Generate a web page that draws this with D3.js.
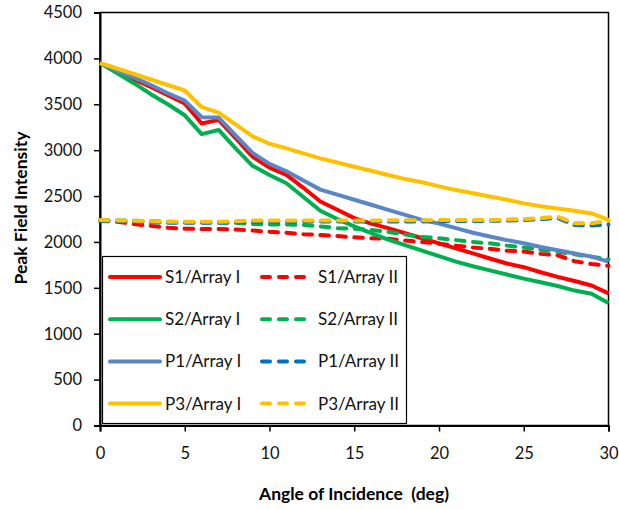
<!DOCTYPE html>
<html>
<head>
<meta charset="utf-8">
<script src="https://cdn.jsdelivr.net/npm/d3@7"></script>
<style>
  html, body { margin: 0; padding: 0; background: #fff; }
  svg { display: block; font-family: Lato, "Open Sans", sans-serif; }
</style>
</head>
<body>
<svg id="chart" width="619" height="510"></svg>
<script>
// Angle of incidence (deg)
const angles = d3.range(0, 31);

// Peak field intensity per configuration
const s1ArrayI  = [3950,3860,3770,3690,3600,3510,3290,3330,3130,2930,2810,2730,2590,2440,2350,2260,2200,2150,2095,2040,1985,1930,1875,1820,1765,1725,1670,1620,1575,1525,1440];
const s1ArrayII = [2235,2220,2195,2175,2155,2145,2140,2140,2135,2125,2110,2100,2085,2075,2065,2050,2040,2035,2015,2000,1980,1960,1940,1925,1905,1895,1870,1855,1790,1760,1740];
const s2ArrayI  = [3950,3840,3730,3610,3500,3380,3175,3220,3020,2830,2730,2640,2490,2340,2250,2170,2095,2025,1965,1905,1845,1785,1735,1690,1645,1600,1560,1520,1470,1435,1335];
const s2ArrayII = [2240,2235,2230,2225,2220,2215,2215,2215,2210,2195,2190,2190,2185,2170,2150,2145,2130,2110,2080,2055,2040,2020,2000,1985,1960,1940,1915,1895,1865,1840,1810];
const p1ArrayI  = [3950,3870,3790,3710,3620,3540,3360,3355,3160,2970,2850,2770,2670,2570,2515,2460,2405,2350,2295,2240,2200,2150,2100,2060,2020,1985,1945,1910,1875,1840,1785];
const p1ArrayII = [2228,2224,2220,2215,2210,2208,2208,2208,2212,2220,2222,2222,2222,2222,2222,2222,2222,2222,2224,2224,2226,2228,2228,2230,2232,2238,2248,2262,2185,2180,2190];
const p3ArrayI  = [3950,3890,3830,3770,3710,3650,3470,3410,3280,3150,3070,3020,2965,2910,2865,2820,2775,2730,2685,2650,2605,2565,2530,2495,2460,2420,2390,2365,2340,2310,2240];
const p3ArrayII = [2240,2235,2230,2225,2220,2220,2220,2220,2225,2235,2235,2235,2235,2235,2235,2235,2235,2235,2237,2237,2238,2240,2240,2240,2245,2250,2260,2275,2205,2203,2232];

const seriesNames = ["S1/Array I","S1/Array II","S2/Array I","S2/Array II","P1/Array I","P1/Array II","P3/Array I","P3/Array II"];
const yTicks = d3.range(0, 4501, 500);
const xTicks = d3.range(0, 31, 5);

// Series styling, drawn in legend order
const styles = [
  { values: s1ArrayI,  color: "#FF0000", dashed: false },
  { values: s1ArrayII, color: "#FF0000", dashed: true  },
  { values: s2ArrayI,  color: "#00B050", dashed: false },
  { values: s2ArrayII, color: "#00B050", dashed: true  },
  { values: p1ArrayI,  color: "#5B86C5", dashed: false },
  { values: p1ArrayII, color: "#0070C0", dashed: true  },
  { values: p3ArrayI,  color: "#FFC000", dashed: false },
  { values: p3ArrayII, color: "#FFC000", dashed: true  }
];

const svg = d3.select("#chart");
const plot = { left: 100, right: 608.5, top: 12.5, bottom: 425.5 };

const x = d3.scaleLinear().domain([0, 30]).range([plot.left, plot.right]);
const y = d3.scaleLinear().domain([0, 4500]).range([plot.bottom, plot.top]);

// Plot frame
svg.append("rect")
  .attr("x", plot.left).attr("y", plot.top)
  .attr("width", plot.right - plot.left).attr("height", plot.bottom - plot.top)
  .attr("fill", "none").attr("stroke", "#000").attr("stroke-width", 1.5);

// Axes
const yAxis = d3.axisLeft(y).tickValues(yTicks).tickSize(6).tickPadding(12).tickFormat(d3.format("d"));
const xAxis = d3.axisBottom(x).tickValues(xTicks).tickSize(6).tickPadding(16).tickFormat(d3.format("d"));

const gy = svg.append("g").attr("transform", `translate(${plot.left},0)`).call(yAxis);
const gx = svg.append("g").attr("transform", `translate(0,${plot.bottom})`).call(xAxis);

[gy, gx].forEach(g => {
  g.select(".domain").attr("stroke", "#000").attr("stroke-width", 2);
  g.selectAll(".tick line").attr("stroke", "#000").attr("stroke-width", 1.5);
  g.selectAll(".tick text").attr("fill", "#111").style("font-size", "16.5px").style("font-family", "Lato, sans-serif");
});

// Lines
const line = d3.line()
  .x((d, i) => x(angles[i]))
  .y(d => y(d));

styles.forEach(s => {
  svg.append("path")
    .datum(s.values)
    .attr("d", line)
    .attr("fill", "none")
    .attr("stroke", s.color)
    .attr("stroke-width", 4)
    .attr("stroke-linejoin", "round")
    .attr("stroke-linecap", s.dashed ? "round" : "butt")
    .attr("stroke-dasharray", s.dashed ? "8.5 8.5" : null);
});

// Legend
const legend = svg.append("g");
legend.append("rect")
  .attr("x", 102.5).attr("y", 256.5).attr("width", 304).attr("height", 167)
  .attr("fill", "#fff").attr("stroke", "#000").attr("stroke-width", 1.2);

styles.forEach((s, i) => {
  const col = i % 2, row = Math.floor(i / 2);
  const cy = 277 + row * 42.2;
  const x0 = col === 0 ? 110 : 262;
  const x1 = col === 0 ? 160 : 308;
  legend.append("line")
    .attr("x1", x0).attr("x2", x1).attr("y1", cy).attr("y2", cy)
    .attr("stroke", s.color).attr("stroke-width", 4)
    .attr("stroke-linecap", "round")
    .attr("stroke-dasharray", s.dashed ? "8 9" : null);
  legend.append("text")
    .attr("x", col === 0 ? 165 : 318).attr("y", cy + 6)
    .attr("fill", "#111")
    .style("font-size", "17px")
    .text(seriesNames[i]);
});

// Axis titles
svg.append("text")
  .attr("transform", "translate(27,208) rotate(-90)")
  .attr("text-anchor", "middle")
  .style("font-size", "17.5px").style("font-weight", "bold")
  .text("Peak Field Intensity");

svg.append("text")
  .attr("x", 354).attr("y", 500)
  .attr("text-anchor", "middle")
  .style("font-size", "17.5px").style("font-weight", "bold")
  .style("white-space", "pre")
  .text("Angle of Incidence  (deg)");
</script>
</body>
</html>
